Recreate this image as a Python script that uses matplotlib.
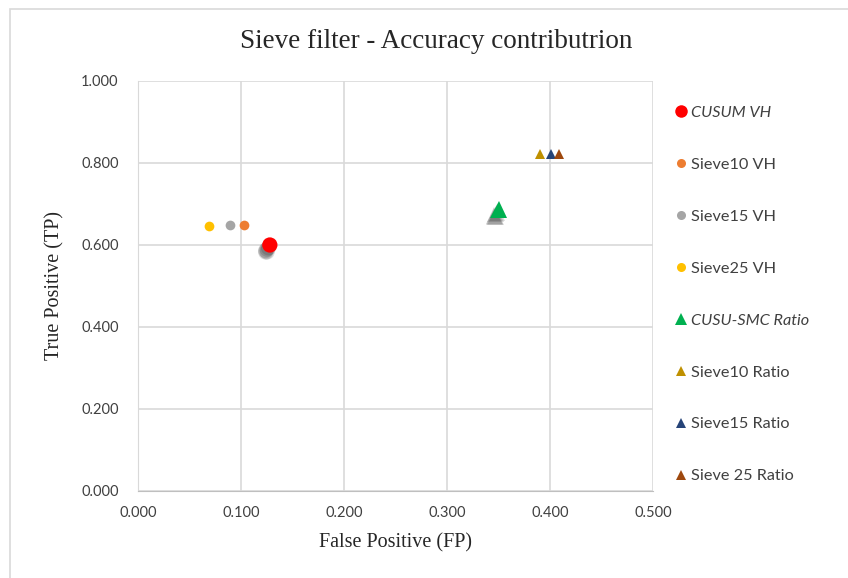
import matplotlib.pyplot as plt
import matplotlib.patheffects as pe
from matplotlib.patches import Rectangle
from matplotlib.lines import Line2D

# series
labels = ["CUSUM VH", "Sieve10 VH", "Sieve15 VH", "Sieve25 VH",
          "CUSU-SMC Ratio", "Sieve10 Ratio", "Sieve15 Ratio", "Sieve 25 Ratio"]
fp = [0.128, 0.103, 0.089, 0.069, 0.350, 0.390, 0.401, 0.409]
tp = [0.600, 0.650, 0.648, 0.647, 0.686, 0.821, 0.821, 0.821]
colors = ["#FF0000", "#ED7D31", "#A5A5A5", "#FFC000",
          "#00B050", "#BF9000", "#264478", "#9E480E"]
markers = ["o", "o", "o", "o", "^", "^", "^", "^"]
sizes = [11, 7, 7, 7, 12, 7, 7, 7]
shadow = [True, False, False, False, True, False, False, False]
italic = [True, False, False, False, True, False, False, False]

xticks = [0.0, 0.1, 0.2, 0.3, 0.4, 0.5]
yticks = [0.0, 0.2, 0.4, 0.6, 0.8, 1.0]

sans = "Lato"
serif = "Liberation Serif"

fig = plt.figure(figsize=(8.48, 5.78), dpi=100)
ax = fig.add_axes([138 / 848, 1 - 491 / 578, (653 - 138) / 848, (491 - 81) / 578])

# outer chart frame
fig.patches.append(Rectangle((10 / 848, -0.05), 1.2, 1 - 9 / 578 + 0.05,
                             transform=fig.transFigure, fill=False,
                             edgecolor="#D9D9D9", linewidth=1.2))

# soft shadow: a few faint offset copies
soft = [pe.SimplePatchShadow(offset=o, shadow_rgbFace="#202020", alpha=0.16)
        for o in [(-1, -2), (-2, -3), (-3, -4), (-3, -5), (-2, -5)]] + [pe.Normal()]

for i in range(len(labels)):
    kw = {"path_effects": soft} if shadow[i] else {}
    ax.plot(fp[i], tp[i], linestyle="none", marker=markers[i], markersize=sizes[i],
            color=colors[i], markeredgewidth=0, zorder=3, **kw)

ax.set_xlim(0, 0.5)
ax.set_ylim(0, 1.0)
ax.set_xticks(xticks)
ax.set_yticks(yticks)
ax.set_xticklabels([f"{v:.3f}" for v in xticks], fontfamily=sans, fontsize=10.5, color="#404040")
ax.set_yticklabels([f"{v:.3f}" for v in yticks], fontfamily=sans, fontsize=10.5, color="#404040")
ax.tick_params(axis="x", length=0, pad=11)
ax.tick_params(axis="y", length=0, pad=14)
ax.grid(True, color="#D9D9D9", linewidth=1.2)
ax.set_axisbelow(True)
for s in ["top", "right"]:
    ax.spines[s].set_visible(False)
ax.spines["left"].set_color("#D9D9D9")
ax.spines["bottom"].set_color("#BFBFBF")

ax.set_xlabel("False Positive (FP)", fontfamily=serif, fontsize=14.5, color="#262626", labelpad=9)
ax.set_ylabel("True Positive (TP)", fontfamily=serif, fontsize=14.5, color="#262626", labelpad=12)
fig.text(436 / 848, 1 - 42 / 578, "Sieve filter - Accuracy contributrion", ha="center", va="center",
         fontfamily=serif, fontsize=19.5, color="#262626")

handles = [Line2D([], [], linestyle="none", marker=markers[i],
                  markersize=(9 if i == 0 else 8 if i == 4 else 6.5),
                  color=colors[i], markeredgewidth=0) for i in range(len(labels))]
leg = fig.legend(handles, labels, loc="upper left", bbox_to_anchor=(657 / 848, 1 - 91 / 578),
                 frameon=False, handletextpad=0.0, handlelength=1.2, labelspacing=2.31,
                 prop={"family": sans, "size": 11.7})
for i, t in enumerate(leg.get_texts()):
    t.set_color("#404040")
    if italic[i]:
        t.set_fontstyle("italic")

fig.savefig("out.png", dpi=100)
